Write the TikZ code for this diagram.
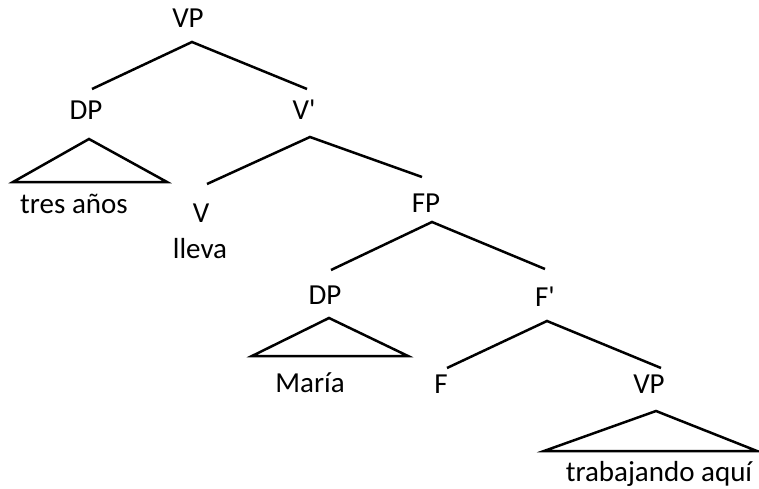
\documentclass[tikz,border=0pt]{standalone}
\usepackage{fontspec}
\setmainfont{Carlito}[Ligatures=TeXOff]
\begin{document}
\begin{tikzpicture}[x=1pt,y=-1pt,
  lbl/.style={anchor=base, inner sep=0pt, font=\fontsize{29}{33}\selectfont},
  branch/.style={line width=2.5pt, line join=miter}]
\useasboundingbox (0,0) rectangle (759,489);

% category labels
\node[lbl] (vp)  at (188,28)  {VP};
\node[lbl] (dp)  at (86,120)  {DP};
\node[lbl] (vb)  at (304,120) {V'};
\node[lbl] (v)   at (201,222) {V};
\node[lbl] (fp)  at (426,212) {FP};
\node[lbl] (dp2) at (325,304) {DP};
\node[lbl] (fb)  at (545,306) {F'};
\node[lbl] (f)   at (441,393) {F};
\node[lbl] (vp2) at (649,393) {VP};

% terminal strings
\node[lbl] (tres)  at (74,213)  {tres años};
\node[lbl] (lleva) at (200,258) {lleva};
\node[lbl] (maria) at (310,392) {María};
\node[lbl] (trab)  at (659,481) {trabajando aquí};

% branches
\draw[branch] ([shift={(6,-31)}]dp.base) -- ([shift={(4,14)}]vp.base) -- ([shift={(3,-31)}]vb.base);
\draw[branch] ([shift={(6,-38)}]v.base) -- ([shift={(6,17)}]vb.base) -- ([shift={(-4,-35)}]fp.base);
\draw[branch] ([shift={(6,-34)}]dp2.base) -- ([shift={(6,10)}]fp.base) -- ([shift={(0,-37)}]fb.base);
\draw[branch] ([shift={(6,-25)}]f.base) -- ([shift={(2,15)}]fb.base) -- ([shift={(12,-25)}]vp2.base);

% triangles over unanalysed phrases
\draw[branch] ([shift={(3,19)}]dp.base) -- ([shift={(-73,62)}]dp.base) -- ([shift={(81,62)}]dp.base) -- cycle;
\draw[branch] ([shift={(4,14)}]dp2.base) -- ([shift={(-73,52)}]dp2.base) -- ([shift={(83,52)}]dp2.base) -- cycle;
\draw[branch] ([shift={(7,18)}]vp2.base) -- ([shift={(-105,58)}]vp2.base) -- ([shift={(108,58)}]vp2.base) -- cycle;
\end{tikzpicture}
\end{document}
